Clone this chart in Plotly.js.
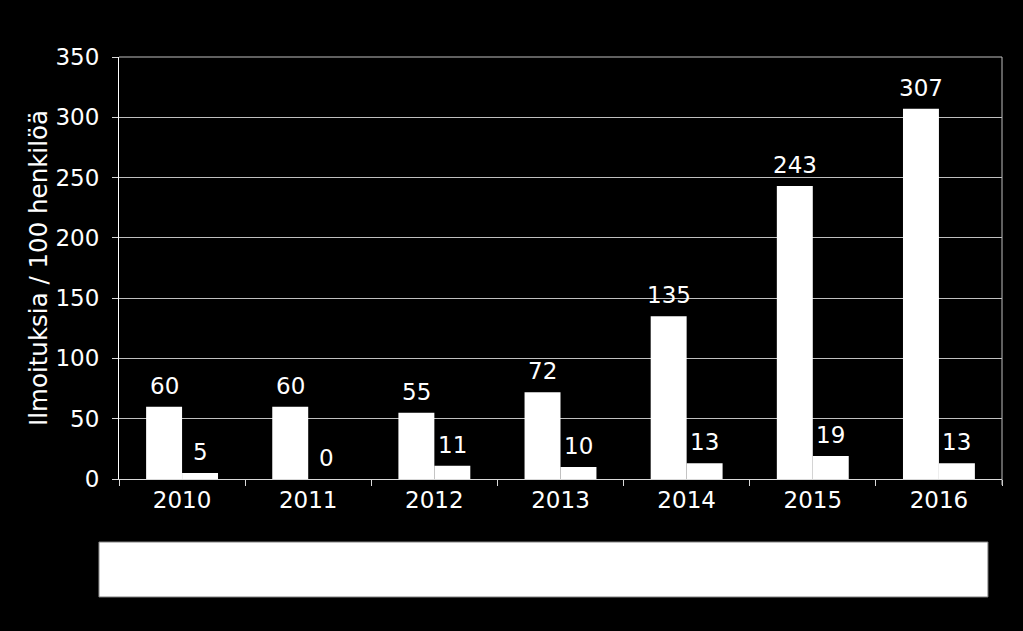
<!DOCTYPE html>
<html>
<head>
<meta charset="utf-8">
<script src="https://cdn.plot.ly/plotly-3.0.1.min.js"></script>
<style>html,body{margin:0;padding:0;background:#000;}#chart{width:1023px;height:631px;}</style>
</head>
<body>
<div id="chart"></div>
<script>
const years = ["2010", "2011", "2012", "2013", "2014", "2015", "2016"];
const seriesA = [60, 60, 55, 72, 135, 243, 307];
const seriesB = [5, 0, 11, 10, 13, 19, 13];
const yTicks = [0, 50, 100, 150, 200, 250, 300, 350];
const yTitle = "Ilmoituksia / 100 henkilöä";

const fam = "DejaVu Sans, Verdana, sans-serif";
const font = {family: fam, size: 23, color: "#ffffff"};

const traces = [
  {type: "bar", x: years, y: seriesA, marker: {color: "#ffffff"}, hoverinfo: "none"},
  {type: "bar", x: years, y: seriesB, marker: {color: "#ffffff"}, hoverinfo: "none"}
];

const BAR_SHIFT = 18;
const annotations = [];
[[seriesA, -BAR_SHIFT], [seriesB, BAR_SHIFT]].forEach(([vals, shift]) => {
  vals.forEach((v, i) => {
    annotations.push({x: i, y: v, xref: "x", yref: "y", text: String(v),
      showarrow: false, xanchor: "center", yanchor: "bottom", xshift: shift, yshift: 6,
      font: font});
  });
});

const layout = {
  width: 1023, height: 631,
  paper_bgcolor: "#000000", plot_bgcolor: "#000000",
  margin: {l: 119, r: 21, t: 57, b: 152},
  font: font,
  showlegend: false,
  barmode: "group", bargap: 0.43, bargroupgap: 0,
  xaxis: {type: "category", range: [-0.5, years.length - 0.5], autorange: false,
          showgrid: false, showline: true, linecolor: "#d9d9d9", linewidth: 1,
          ticks: "outside", tickson: "boundaries", ticklen: 6, tickcolor: "#d9d9d9",
          tickfont: font, zeroline: false},
  yaxis: {range: [0, 350], autorange: false, tickvals: yTicks, showgrid: true, gridcolor: "#bfbfbf", gridwidth: 1,
          showline: true, linecolor: "#ffffff", linewidth: 1, ticks: "outside", ticklen: 6,
          tickcolor: "#d9d9d9", tickfont: font, zeroline: false, ticklabelstandoff: 8,
          title: {text: yTitle, font: {family: fam, size: 24.5, color: "#ffffff"}, standoff: 0}},
  annotations: annotations,
  shapes: [
    {type: "line", xref: "paper", yref: "paper", x0: 0, x1: 1, y0: 1, y1: 1, line: {color: "#bfbfbf", width: 1}},
    {type: "line", xref: "paper", yref: "paper", x0: 1, x1: 1, y0: -0.014, y1: 1, line: {color: "#bfbfbf", width: 1}},
    {type: "rect", xref: "paper", yref: "paper", x0: -0.0227, x1: 0.9841, y0: -0.2796, y1: -0.1493,
     fillcolor: "#ffffff", line: {color: "#808080", width: 1}}
  ]
};

Plotly.newPlot("chart", traces, layout, {staticPlot: true});
</script>
</body>
</html>
